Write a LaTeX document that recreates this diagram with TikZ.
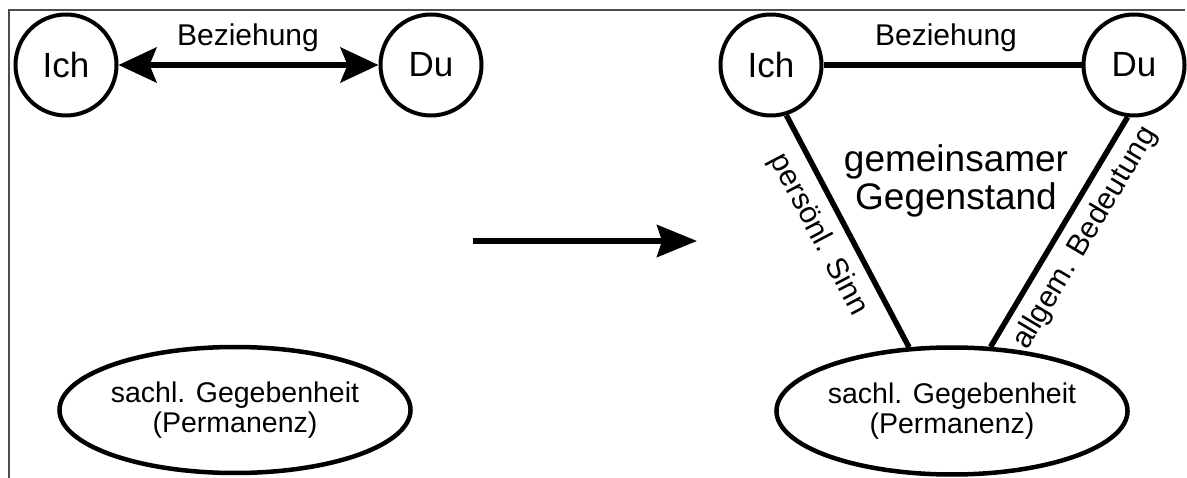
\documentclass[tikz,border=0pt]{standalone}
\usepackage{fontspec}
\setmainfont{Liberation Sans}
\usetikzlibrary{arrows.meta,shapes.geometric}
\begin{document}
\begin{tikzpicture}[x=1pt,y=-1pt,
  circ/.style={circle, draw, line width=4pt, minimum size=101pt, inner sep=0pt, font=\fontsize{35}{40}\selectfont},
  ell/.style={ellipse, draw, line width=4.5pt, inner sep=0pt, align=center, font=\fontsize{28.5}{30}\selectfont},
  conn/.style={line width=5.5pt},
  lbl/.style={font=\fontsize{30}{32}\selectfont, inner sep=0pt},
  frameline/.style={draw=black!70, line width=1.5pt}
]
\fill[white] (0,0) rectangle (1187,478);
\useasboundingbox (0,0) rectangle (1187,478);
\draw[frameline] (9,478) -- (9,10) -- (1185,10);

% left part
\node[circ] (ich1) at (66,65) {Ich};
\node[circ] (du1) at (431,65) {Du};
\draw[conn, {Stealth[length=38pt,width=35pt,inset=7pt]}-{Stealth[length=38pt,width=35pt,inset=7pt]}] (ich1) -- (du1);
\node[lbl, anchor=base] (bez1) at (248,46) {Beziehung};
\node[ell, minimum width=282pt, minimum height=126pt] (ell1) at (235,410) {sachl. Gegebenheit\\(Permanenz)};

% transition arrow
\coordinate (m0) at (473,241);
\coordinate (m1) at (697,241);
\draw[conn, -{Stealth[length=40pt,width=32pt,inset=5pt]}] (m0) -- (m1);

% right part
\node[circ] (ich2) at (771,65) {Ich};
\node[circ] (du2) at (1134,65) {Du};
\draw[conn] (ich2) -- (du2);
\node[lbl, anchor=base] (bez2) at (946,46) {Beziehung};
\node[ell, minimum width=269pt, minimum height=127pt] (ell2) at (952,411) {sachl. Gegebenheit\\(Permanenz)};
\draw[conn] (ich2.-73) -- node[lbl, sloped, pos=0.46, below=11pt] (sinn) {persönl. Sinn} (ell2.124.5);
\draw[conn] (ell2.59.3) -- node[lbl, sloped, pos=0.53, below=9pt] (bed) {allgem. Bedeutung} (du2.-97.7);
\node[font=\fontsize{37}{38}\selectfont, align=center, inner sep=0pt] (gg) at (956,181) {gemeinsamer\\Gegenstand};
\end{tikzpicture}
\end{document}
